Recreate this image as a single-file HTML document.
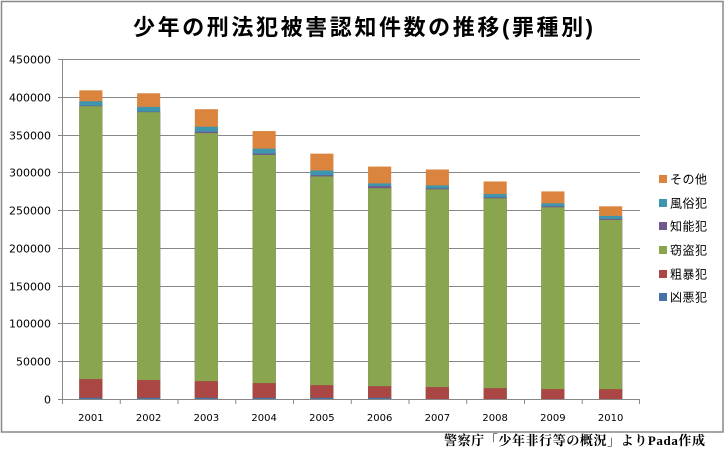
<!DOCTYPE html>
<html>
<head>
<meta charset="utf-8">
<style>
  html, body { margin: 0; padding: 0; background: #ffffff; }
  svg { display: block; }
  .ylab { font-family: "DejaVu Sans", "Liberation Sans", sans-serif; font-size: 11px; fill: #000; }
  .xlab { font-family: "DejaVu Sans", "Liberation Sans", sans-serif; font-size: 10px; fill: #000; }
  .leg { font-family: "Liberation Sans", "Noto Sans CJK JP", sans-serif; font-size: 12px; fill: #000; }
  .title { font-family: "Liberation Sans", "Noto Sans CJK JP", sans-serif; font-size: 22px; font-weight: bold; fill: #000; }
  .foot { font-family: "Liberation Serif", "Noto Serif CJK SC", serif; font-size: 13px; font-weight: bold; fill: #000; }
</style>
</head>
<body>
<svg width="728" height="453" viewBox="0 0 728 453" xmlns="http://www.w3.org/2000/svg">
  <rect x="0" y="0" width="728" height="453" fill="#ffffff"/>
  <!-- chart border -->
  <rect x="1.5" y="1.5" width="721.5" height="430.5" fill="none" stroke="#888888" stroke-width="1.5"/>

  <!-- title -->
  <text class="title" x="133" y="35" textLength="460" lengthAdjust="spacing">少年の刑法犯被害認知件数の推移(罪種別)</text>

  <!-- gridlines -->
  <g stroke="#878787" stroke-width="1">
    <line x1="58" y1="59.5" x2="640" y2="59.5"/>
    <line x1="58" y1="97.5" x2="640" y2="97.5"/>
    <line x1="58" y1="135.5" x2="640" y2="135.5"/>
    <line x1="58" y1="172.5" x2="640" y2="172.5"/>
    <line x1="58" y1="210.5" x2="640" y2="210.5"/>
    <line x1="58" y1="248.5" x2="640" y2="248.5"/>
    <line x1="58" y1="286.5" x2="640" y2="286.5"/>
    <line x1="58" y1="323.5" x2="640" y2="323.5"/>
    <line x1="58" y1="361.5" x2="640" y2="361.5"/>
    <line x1="58" y1="399.5" x2="640" y2="399.5"/>
    <!-- y axis -->
    <line x1="62.5" y1="59.5" x2="62.5" y2="400"/>
    <!-- x ticks -->
    <line x1="62.5" y1="399.5" x2="62.5" y2="404"/>
    <line x1="120.25" y1="399.5" x2="120.25" y2="404"/>
    <line x1="178" y1="399.5" x2="178" y2="404"/>
    <line x1="235.75" y1="399.5" x2="235.75" y2="404"/>
    <line x1="293.5" y1="399.5" x2="293.5" y2="404"/>
    <line x1="351.25" y1="399.5" x2="351.25" y2="404"/>
    <line x1="409" y1="399.5" x2="409" y2="404"/>
    <line x1="466.75" y1="399.5" x2="466.75" y2="404"/>
    <line x1="524.5" y1="399.5" x2="524.5" y2="404"/>
    <line x1="582.25" y1="399.5" x2="582.25" y2="404"/>
    <line x1="639.5" y1="399.5" x2="639.5" y2="404"/>
  </g>

  <!-- y labels -->
  <g class="ylab" text-anchor="end">
    <text x="51" y="63.5">450000</text>
    <text x="51" y="101.5">400000</text>
    <text x="51" y="139.5">350000</text>
    <text x="51" y="176.5">300000</text>
    <text x="51" y="214.5">250000</text>
    <text x="51" y="252.5">200000</text>
    <text x="51" y="290.5">150000</text>
    <text x="51" y="327.5">100000</text>
    <text x="51" y="365.5">50000</text>
    <text x="51" y="403.5">0</text>
  </g>

  <!-- x labels -->
  <g class="xlab" text-anchor="middle">
    <text x="90.9" y="421">2001</text>
    <text x="148.6" y="421">2002</text>
    <text x="206.4" y="421">2003</text>
    <text x="264.1" y="421">2004</text>
    <text x="321.9" y="421">2005</text>
    <text x="379.6" y="421">2006</text>
    <text x="437.4" y="421">2007</text>
    <text x="495.1" y="421">2008</text>
    <text x="552.9" y="421">2009</text>
    <text x="610.6" y="421">2010</text>
  </g>

  <!-- bars: each segment drawn from its top down to baseline, later overlays earlier -->
  <!-- orange その他 -->
  <g fill="#DB843D">
    <rect x="79.33" y="90.33" width="23.1" height="309.17"/>
    <rect x="137.08" y="93.28" width="23.1" height="306.22"/>
    <rect x="194.83" y="109.21" width="23.1" height="290.29"/>
    <rect x="252.58" y="131.05" width="23.1" height="268.45"/>
    <rect x="310.33" y="153.64" width="23.1" height="245.86"/>
    <rect x="368.08" y="166.56" width="23.1" height="232.94"/>
    <rect x="425.83" y="169.51" width="23.1" height="229.99"/>
    <rect x="483.58" y="181.45" width="23.1" height="218.05"/>
    <rect x="541.33" y="191.42" width="23.1" height="208.08"/>
    <rect x="599.08" y="206.30" width="23.1" height="193.20"/>
  </g>
  <!-- teal 風俗犯 -->
  <g fill="#3D96AE">
    <rect x="79.33" y="101.28" width="23.1" height="298.22"/>
    <rect x="137.08" y="106.87" width="23.1" height="292.63"/>
    <rect x="194.83" y="126.74" width="23.1" height="272.76"/>
    <rect x="252.58" y="148.66" width="23.1" height="250.84"/>
    <rect x="310.33" y="170.49" width="23.1" height="229.01"/>
    <rect x="368.08" y="183.41" width="23.1" height="216.09"/>
    <rect x="425.83" y="185.45" width="23.1" height="214.05"/>
    <rect x="483.58" y="194.06" width="23.1" height="205.44"/>
    <rect x="541.33" y="203.36" width="23.1" height="196.14"/>
    <rect x="599.08" y="215.90" width="23.1" height="183.60"/>
  </g>
  <!-- purple 知能犯 -->
  <g fill="#71588F">
    <rect x="79.33" y="105.59" width="23.1" height="293.91"/>
    <rect x="137.08" y="111.63" width="23.1" height="287.87"/>
    <rect x="194.83" y="131.73" width="23.1" height="267.77"/>
    <rect x="252.58" y="153.64" width="23.1" height="245.86"/>
    <rect x="310.33" y="175.18" width="23.1" height="224.32"/>
    <rect x="368.08" y="186.21" width="23.1" height="213.29"/>
    <rect x="425.83" y="188.40" width="23.1" height="211.10"/>
    <rect x="483.58" y="197.39" width="23.1" height="202.11"/>
    <rect x="541.33" y="206.30" width="23.1" height="193.20"/>
    <rect x="599.08" y="218.92" width="23.1" height="180.58"/>
  </g>
  <!-- green 窃盗犯 -->
  <g fill="#89A54E">
    <rect x="79.33" y="106.19" width="23.1" height="293.31"/>
    <rect x="137.08" y="112.16" width="23.1" height="287.34"/>
    <rect x="194.83" y="133.09" width="23.1" height="266.41"/>
    <rect x="252.58" y="154.93" width="23.1" height="244.57"/>
    <rect x="310.33" y="176.46" width="23.1" height="223.04"/>
    <rect x="368.08" y="188.25" width="23.1" height="211.25"/>
    <rect x="425.83" y="189.38" width="23.1" height="210.12"/>
    <rect x="483.58" y="198.37" width="23.1" height="201.13"/>
    <rect x="541.33" y="207.29" width="23.1" height="192.21"/>
    <rect x="599.08" y="219.90" width="23.1" height="179.60"/>
  </g>
  <!-- red 粗暴犯 -->
  <g fill="#AA4643">
    <rect x="79.33" y="379.10" width="23.1" height="20.40"/>
    <rect x="137.08" y="380.08" width="23.1" height="19.42"/>
    <rect x="194.83" y="381.14" width="23.1" height="18.36"/>
    <rect x="252.58" y="383.10" width="23.1" height="16.40"/>
    <rect x="310.33" y="385.14" width="23.1" height="14.36"/>
    <rect x="368.08" y="386.13" width="23.1" height="13.37"/>
    <rect x="425.83" y="387.11" width="23.1" height="12.39"/>
    <rect x="483.58" y="388.17" width="23.1" height="11.33"/>
    <rect x="541.33" y="389.15" width="23.1" height="10.35"/>
    <rect x="599.08" y="389.15" width="23.1" height="10.35"/>
  </g>
  <!-- blue 凶悪犯 -->
  <g fill="#4572A7">
    <rect x="79.33" y="397.8" width="23.1" height="1.7"/>
    <rect x="137.08" y="397.8" width="23.1" height="1.7"/>
    <rect x="194.83" y="397.8" width="23.1" height="1.7"/>
    <rect x="252.58" y="397.8" width="23.1" height="1.7"/>
    <rect x="310.33" y="397.8" width="23.1" height="1.7"/>
    <rect x="368.08" y="397.8" width="23.1" height="1.7"/>
    <rect x="425.83" y="399.0" width="23.1" height="0.5"/>
    <rect x="483.58" y="399.0" width="23.1" height="0.5"/>
    <rect x="541.33" y="399.0" width="23.1" height="0.5"/>
    <rect x="599.08" y="399.0" width="23.1" height="0.5"/>
  </g>

  <!-- axis line on top -->
  <line x1="62" y1="399.5" x2="640" y2="399.5" stroke="#878787" stroke-width="1"/>

  <!-- legend -->
  <rect x="659" y="175" width="8" height="8" fill="#DB843D"/>
  <rect x="659" y="199" width="8" height="8" fill="#3D96AE"/>
  <rect x="659" y="222" width="8" height="8" fill="#71588F"/>
  <rect x="659" y="246" width="8" height="8" fill="#89A54E"/>
  <rect x="659" y="270" width="8" height="8" fill="#AA4643"/>
  <rect x="659" y="293" width="8" height="8" fill="#4572A7"/>
  <g class="leg">
    <text x="670" y="183.5" textLength="37" lengthAdjust="spacing">その他</text>
    <text x="670" y="207.5" textLength="37" lengthAdjust="spacing">風俗犯</text>
    <text x="670" y="230.5" textLength="37" lengthAdjust="spacing">知能犯</text>
    <text x="670" y="254.5" textLength="37" lengthAdjust="spacing">窃盗犯</text>
    <text x="670" y="278.5" textLength="37" lengthAdjust="spacing">粗暴犯</text>
    <text x="670" y="301.5" textLength="37" lengthAdjust="spacing">凶悪犯</text>
  </g>

  <!-- footer -->
  <text class="foot" x="444" y="445" textLength="261" lengthAdjust="spacing">警察庁「少年非行等の概況」よりPada作成</text>
</svg>
</body>
</html>
